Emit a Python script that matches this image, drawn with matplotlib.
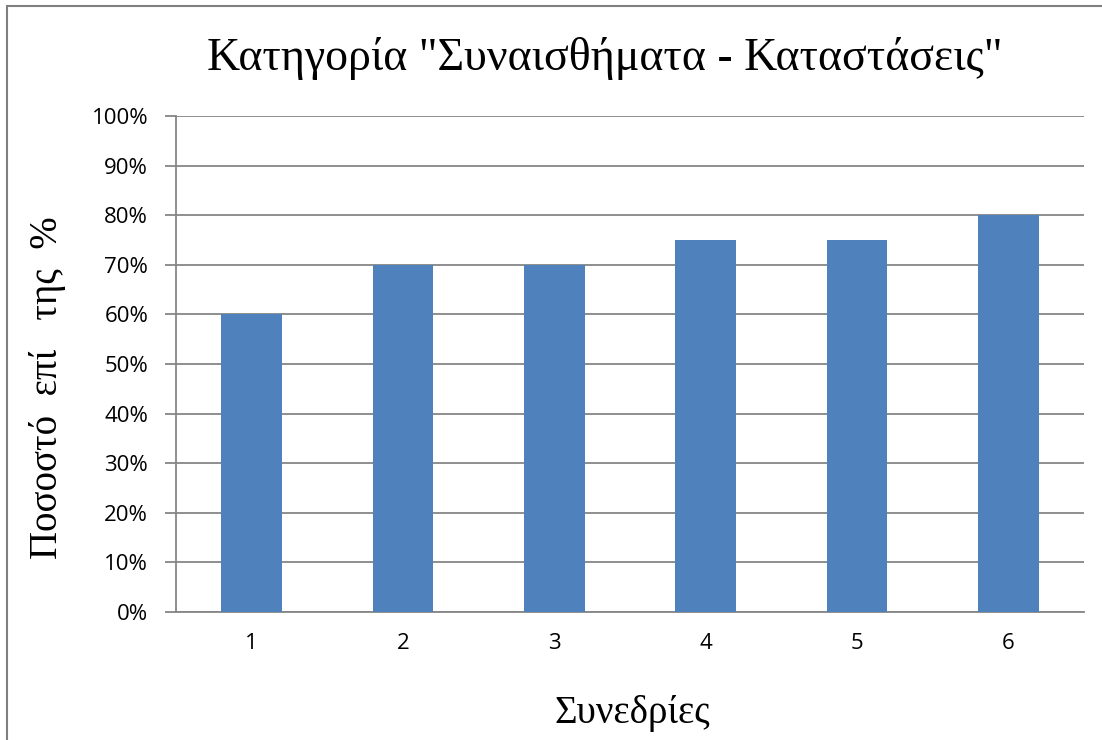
import matplotlib
matplotlib.use("Agg")
import matplotlib.pyplot as plt
from matplotlib.patches import Rectangle
from matplotlib.ticker import FuncFormatter

sessions = ["1", "2", "3", "4", "5", "6"]
percent = [60, 70, 70, 75, 75, 80]
yticks = list(range(0, 101, 10))

W, H = 1102, 740
fig = plt.figure(figsize=(W / 100, H / 100), dpi=100)

# plot area in pixel coordinates
left, right, top, bottom = 176, 1084, 116, 612
ax = fig.add_axes([left / W, 1 - bottom / H, (right - left) / W, (bottom - top) / H])

grid_col = "#868686"
x = list(range(len(sessions)))
ax.bar(x, percent, width=0.4, color="#4F81BD", zorder=3)
ax.set_xlim(-0.5, len(sessions) - 0.5)
ax.set_ylim(0, 100)
ax.set_yticks(yticks)
ax.yaxis.set_major_formatter(FuncFormatter(lambda v, p: "{}%".format(int(v))))
ax.set_xticks(x)
ax.set_xticklabels(sessions)
ax.grid(axis="y", color=grid_col, linewidth=1.3, zorder=0)

for s in ["top", "right"]:
    ax.spines[s].set_visible(False)
for s in ["left", "bottom"]:
    ax.spines[s].set_color(grid_col)
    ax.spines[s].set_linewidth(1.3)

ax.tick_params(axis="y", length=8, width=1.3, color=grid_col, pad=12,
               labelsize=16)
ax.tick_params(axis="x", length=0, pad=15, labelsize=16)
for lab in ax.get_xticklabels() + ax.get_yticklabels():
    lab.set_family("Open Sans")

fig.text(605 / W, 1 - 58 / H, 'Κατηγορία "Συναισθήματα - Καταστάσεις"',
         ha="center", va="center", fontsize=33, family="Liberation Serif")
fig.text(48 / W, 1 - 388 / H, "Ποσοστό  επί   της  %", rotation=90,
         ha="center", va="center", fontsize=28, family="Liberation Serif")
fig.text(632 / W, 1 - 714 / H, "Συνεδρίες",
         ha="center", va="center", fontsize=28, family="Liberation Serif")

# outer chart border (cut off at right / bottom)
fig.patches.append(Rectangle((7 / W, -0.1), 1.2, 1 - 6 / H + 0.1,
                             transform=fig.transFigure, fill=False,
                             edgecolor="#7f7f7f", linewidth=1.5))

fig.savefig("out.png", dpi=100)
